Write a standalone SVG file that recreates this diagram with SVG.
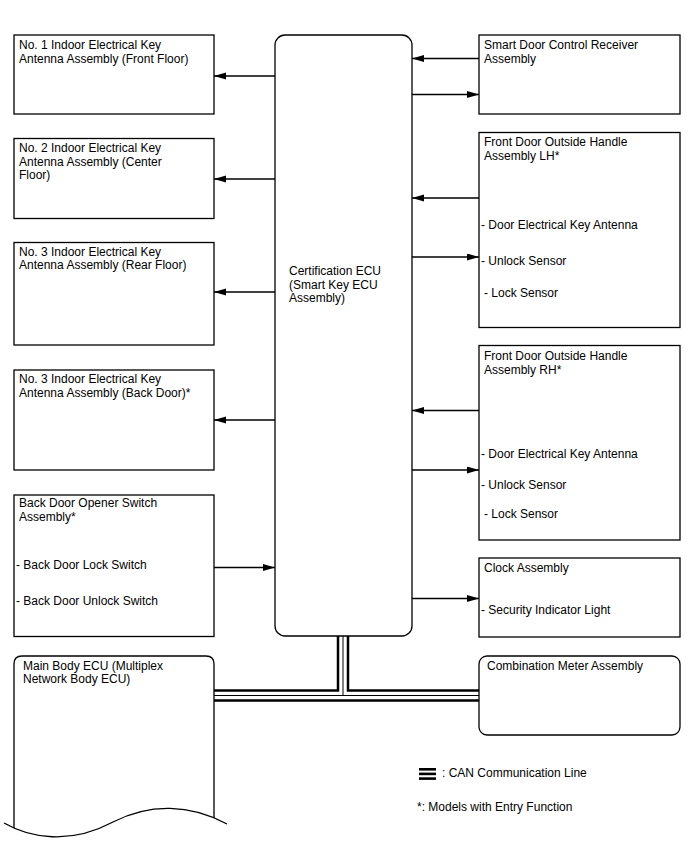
<svg xmlns="http://www.w3.org/2000/svg" width="688" height="852" viewBox="0 0 688 852">
<style>
text{font-family:"Liberation Sans",Arial,sans-serif;font-size:12px;fill:#000}
.box{fill:#fff;stroke:#000;stroke-width:1.3}
.ln{fill:none;stroke:#000;stroke-width:1.3}
.arr{fill:none;stroke:#000;stroke-width:1.3;marker-end:url(#ah)}
</style>
<defs>
<marker id="ah" markerUnits="userSpaceOnUse" markerWidth="13" markerHeight="8" refX="12" refY="3.5" orient="auto">
<path d="M0,0 L12,3.5 L0,7 z" fill="#000"/>
</marker>
</defs>
<rect width="688" height="852" fill="#fff"/>

<g id="connectors">
<path class="arr" d="M275,76 H214"/>
<path class="arr" d="M275,179 H214"/>
<path class="arr" d="M275,292 H214"/>
<path class="arr" d="M275,420 H214"/>
<path class="arr" d="M214,567.5 H275"/>
<path class="arr" d="M479,58.5 H412"/>
<path class="arr" d="M412,94.5 H479"/>
<path class="arr" d="M479,198 H412"/>
<path class="arr" d="M412,257 H479"/>
<path class="arr" d="M479,410.5 H412"/>
<path class="arr" d="M412,470 H479"/>
<path class="arr" d="M412,598.5 H479"/>
<g id="can-line">
<path d="M214,695.5 H479 M343,636 V695.5" fill="none" stroke="#000" stroke-width="12.5"/>
<path d="M214,695.5 H479 M343,636 V695.5" fill="none" stroke="#fff" stroke-width="7.5"/>
<path d="M214,695.5 H479 M343,636 V695.5" fill="none" stroke="#000" stroke-width="1"/>
</g>
</g>

<g id="ecu">
<rect class="box" x="275" y="35" width="137" height="601" rx="10"/>
<text x="289" y="275">Certification ECU</text>
<text x="289" y="288.5">(Smart Key ECU</text>
<text x="289" y="302">Assembly)</text>
</g>

<g id="ant1">
<rect class="box" x="14" y="35" width="200" height="79"/>
<text x="19" y="49">No. 1 Indoor Electrical Key</text>
<text x="19" y="62.5">Antenna Assembly (Front Floor)</text>
</g>
<g id="ant2">
<rect class="box" x="14" y="138.5" width="200" height="80"/>
<text x="19" y="152">No. 2 Indoor Electrical Key</text>
<text x="19" y="165.5">Antenna Assembly (Center</text>
<text x="19" y="179">Floor)</text>
</g>
<g id="ant3">
<rect class="box" x="14" y="242.5" width="200" height="102.5"/>
<text x="19" y="255.5">No. 3 Indoor Electrical Key</text>
<text x="19" y="269">Antenna Assembly (Rear Floor)</text>
</g>
<g id="ant4">
<rect class="box" x="14" y="370" width="200" height="100"/>
<text x="19" y="383">No. 3 Indoor Electrical Key</text>
<text x="19" y="396.5">Antenna Assembly (Back Door)*</text>
</g>
<g id="backdoor">
<rect class="box" x="14" y="495" width="200" height="141.5"/>
<text x="19" y="507">Back Door Opener Switch</text>
<text x="19" y="520.5">Assembly*</text>
<text x="16" y="568.5">- Back Door Lock Switch</text>
<text x="16" y="605">- Back Door Unlock Switch</text>
</g>
<g id="mainbody">
<path class="ln" d="M14,828 V664 Q14,656 22,656 H206 Q214,656 214,664 V818"/>
<path class="ln" d="M4,823 C30,838 70,845 113,822 C150,803 190,804 227,824"/>
<text x="23" y="669.5">Main Body ECU (Multiplex</text>
<text x="23" y="683">Network Body ECU)</text>
</g>

<g id="smartdoor">
<rect class="box" x="479" y="35" width="201" height="79"/>
<text x="484" y="49">Smart Door Control Receiver</text>
<text x="484" y="62.5">Assembly</text>
</g>
<g id="handle-lh">
<rect class="box" x="479" y="132.5" width="201" height="195"/>
<text x="484" y="146">Front Door Outside Handle</text>
<text x="484" y="159.5">Assembly LH*</text>
<text x="481" y="229">- Door Electrical Key Antenna</text>
<text x="481" y="264.5">- Unlock Sensor</text>
<text x="484" y="297">- Lock Sensor</text>
</g>
<g id="handle-rh">
<rect class="box" x="479" y="345.5" width="201" height="194.5"/>
<text x="484" y="360">Front Door Outside Handle</text>
<text x="484" y="373.5">Assembly RH*</text>
<text x="481" y="458">- Door Electrical Key Antenna</text>
<text x="481" y="488.5">- Unlock Sensor</text>
<text x="484" y="517.5">- Lock Sensor</text>
</g>
<g id="clock">
<rect class="box" x="479" y="558" width="201" height="79"/>
<text x="484" y="572">Clock Assembly</text>
<text x="481" y="613.5">- Security Indicator Light</text>
</g>
<g id="meter">
<rect class="box" x="479" y="656" width="201" height="79" rx="8"/>
<text x="487" y="670">Combination Meter Assembly</text>
</g>

<g id="legend">
<rect x="419" y="768" width="17" height="2.6" fill="#000"/>
<rect x="419" y="772.6" width="17" height="2.6" fill="#000"/>
<rect x="419" y="777.3" width="17" height="2.6" fill="#000"/>
<text x="442" y="777">: CAN Communication Line</text>
<text x="417" y="810.5">*: Models with Entry Function</text>
</g>
</svg>
